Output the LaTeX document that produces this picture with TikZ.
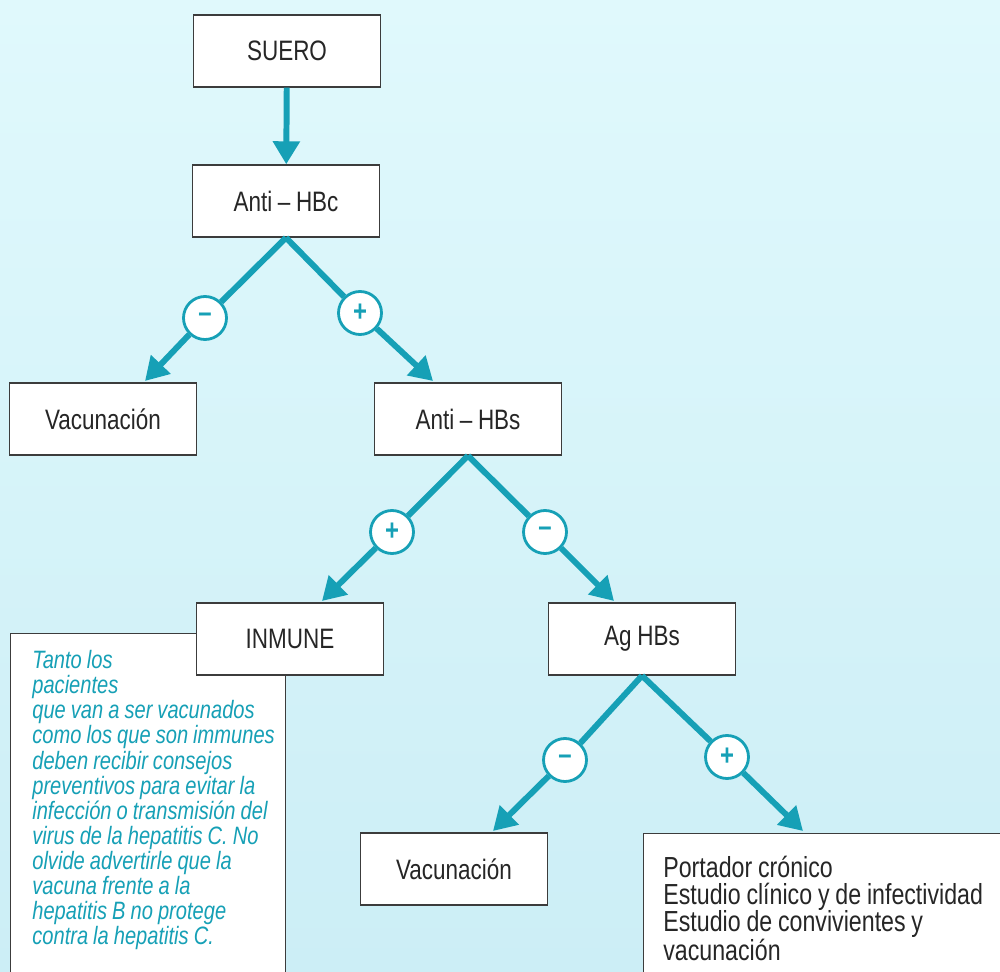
\documentclass[tikz,border=0pt]{standalone}
\usepackage{fontspec}
\setmainfont{Liberation Sans}[FakeStretch=0.8, WordSpace=0.9]
\usetikzlibrary{arrows.meta}

\definecolor{fondoA}{RGB}{224,249,252}
\definecolor{fondoB}{RGB}{204,238,246}
\definecolor{verdeazul}{RGB}{22,160,182}
\definecolor{borde}{RGB}{60,60,60}

\tikzset{
  caja/.style = {draw=borde, line width=0.8pt, fill=white, minimum width=3.74cm,
    minimum height=1.44cm, font=\fontsize{16}{19}\selectfont, text=black!85},
  flecha/.style = {draw=verdeazul, line width=3.4pt,
    -{Triangle[length=0.46cm, width=0.52cm]}},
  signo/.style = {circle, draw=verdeazul, line width=1.6pt, fill=white,
    minimum size=0.86cm, inner sep=0pt, text=verdeazul,
    font=\fontsize{17}{17}\selectfont\bfseries}
}

\begin{document}
\begin{tikzpicture}[x=0.02cm, y=-0.02cm]
  \useasboundingbox (0,0) rectangle (1000,972);
  \shade[top color=fondoA, bottom color=fondoB] (0,0) rectangle (1000,972);
  \clip (0,0) rectangle (1000,972);

  % recuadro de la nota, detras de INMUNE
  \node[draw=borde, line width=0.8pt, fill=white, anchor=north west,
    minimum width=5.5cm, minimum height=7.3cm] (notaCaja) at (10,633) {};
  \node[anchor=north west, inner sep=0pt, align=left,
    text=verdeazul, font=\fontsize{14.3}{14.3}\selectfont\itshape] (nota) at (32,650)
    {Tanto los\\ pacientes\\ que van a ser vacunados\\ como los que son immunes\\
     deben recibir consejos\\ preventivos para evitar la\\ infección o transmisión del\\
     virus de la hepatitis C. No\\ olvide advertirle que la\\ vacuna frente a la\\
     hepatitis B no protege\\ contra la hepatitis C.};

  \node[caja] (suero) at (287,51) {SUERO};
  \node[caja] (antiHBc) at (286,201) {Anti -- HBc};
  \node[caja] (vacunacionA) at (103,419) {Vacunación};
  \node[caja] (antiHBs) at (468,419) {Anti -- HBs};
  \node[caja] (inmune) at (290,639) {INMUNE};
  \node[caja] (agHBs) at (642,639) {Ag HBs};
  \node[caja] (vacunacionB) at (454,869) {Vacunación};
  \node[draw=borde, line width=0.8pt, fill=white, anchor=north west,
    minimum width=7.4cm, minimum height=3.3cm] (portadorCaja) at (643,833) {};
  \node[anchor=north west, inner sep=0pt, align=left,
    text=black!85, font=\fontsize{16.5}{15.4}\selectfont] (portador) at (663,856)
    {Portador crónico\\ Estudio clínico y de infectividad\\ Estudio de convivientes y\\ vacunación};

  % signos
  \node[signo] (menosA) at (205,318) {--};
  \node[signo] (masA) at (360,313) {+};
  \node[signo] (masB) at (392,532) {+};
  \node[signo] (menosB) at (545,532) {--};
  \node[signo] (menosC) at (565,760) {--};
  \node[signo] (masC) at (727,757) {+};

  \coordinate (puntaA) at (145,381);
  \coordinate (puntaB) at (433,381);
  \coordinate (puntaC) at (322,601);
  \coordinate (puntaD) at (614,601);
  \coordinate (puntaE) at (493,831);
  \coordinate (puntaF) at (803,831);

  \draw[flecha] (suero) -- (antiHBc);
  \draw[flecha] (antiHBc.south) -- (menosA) -- (puntaA);
  \draw[flecha] (antiHBc.south) -- (masA) -- (puntaB);
  \draw[flecha] (antiHBs.south) -- (masB) -- (puntaC);
  \draw[flecha] (antiHBs.south) -- (menosB) -- (puntaD);
  \draw[flecha] (agHBs.south) -- (menosC) -- (puntaE);
  \draw[flecha] (agHBs.south) -- (masC) -- (puntaF);
\end{tikzpicture}
\end{document}
